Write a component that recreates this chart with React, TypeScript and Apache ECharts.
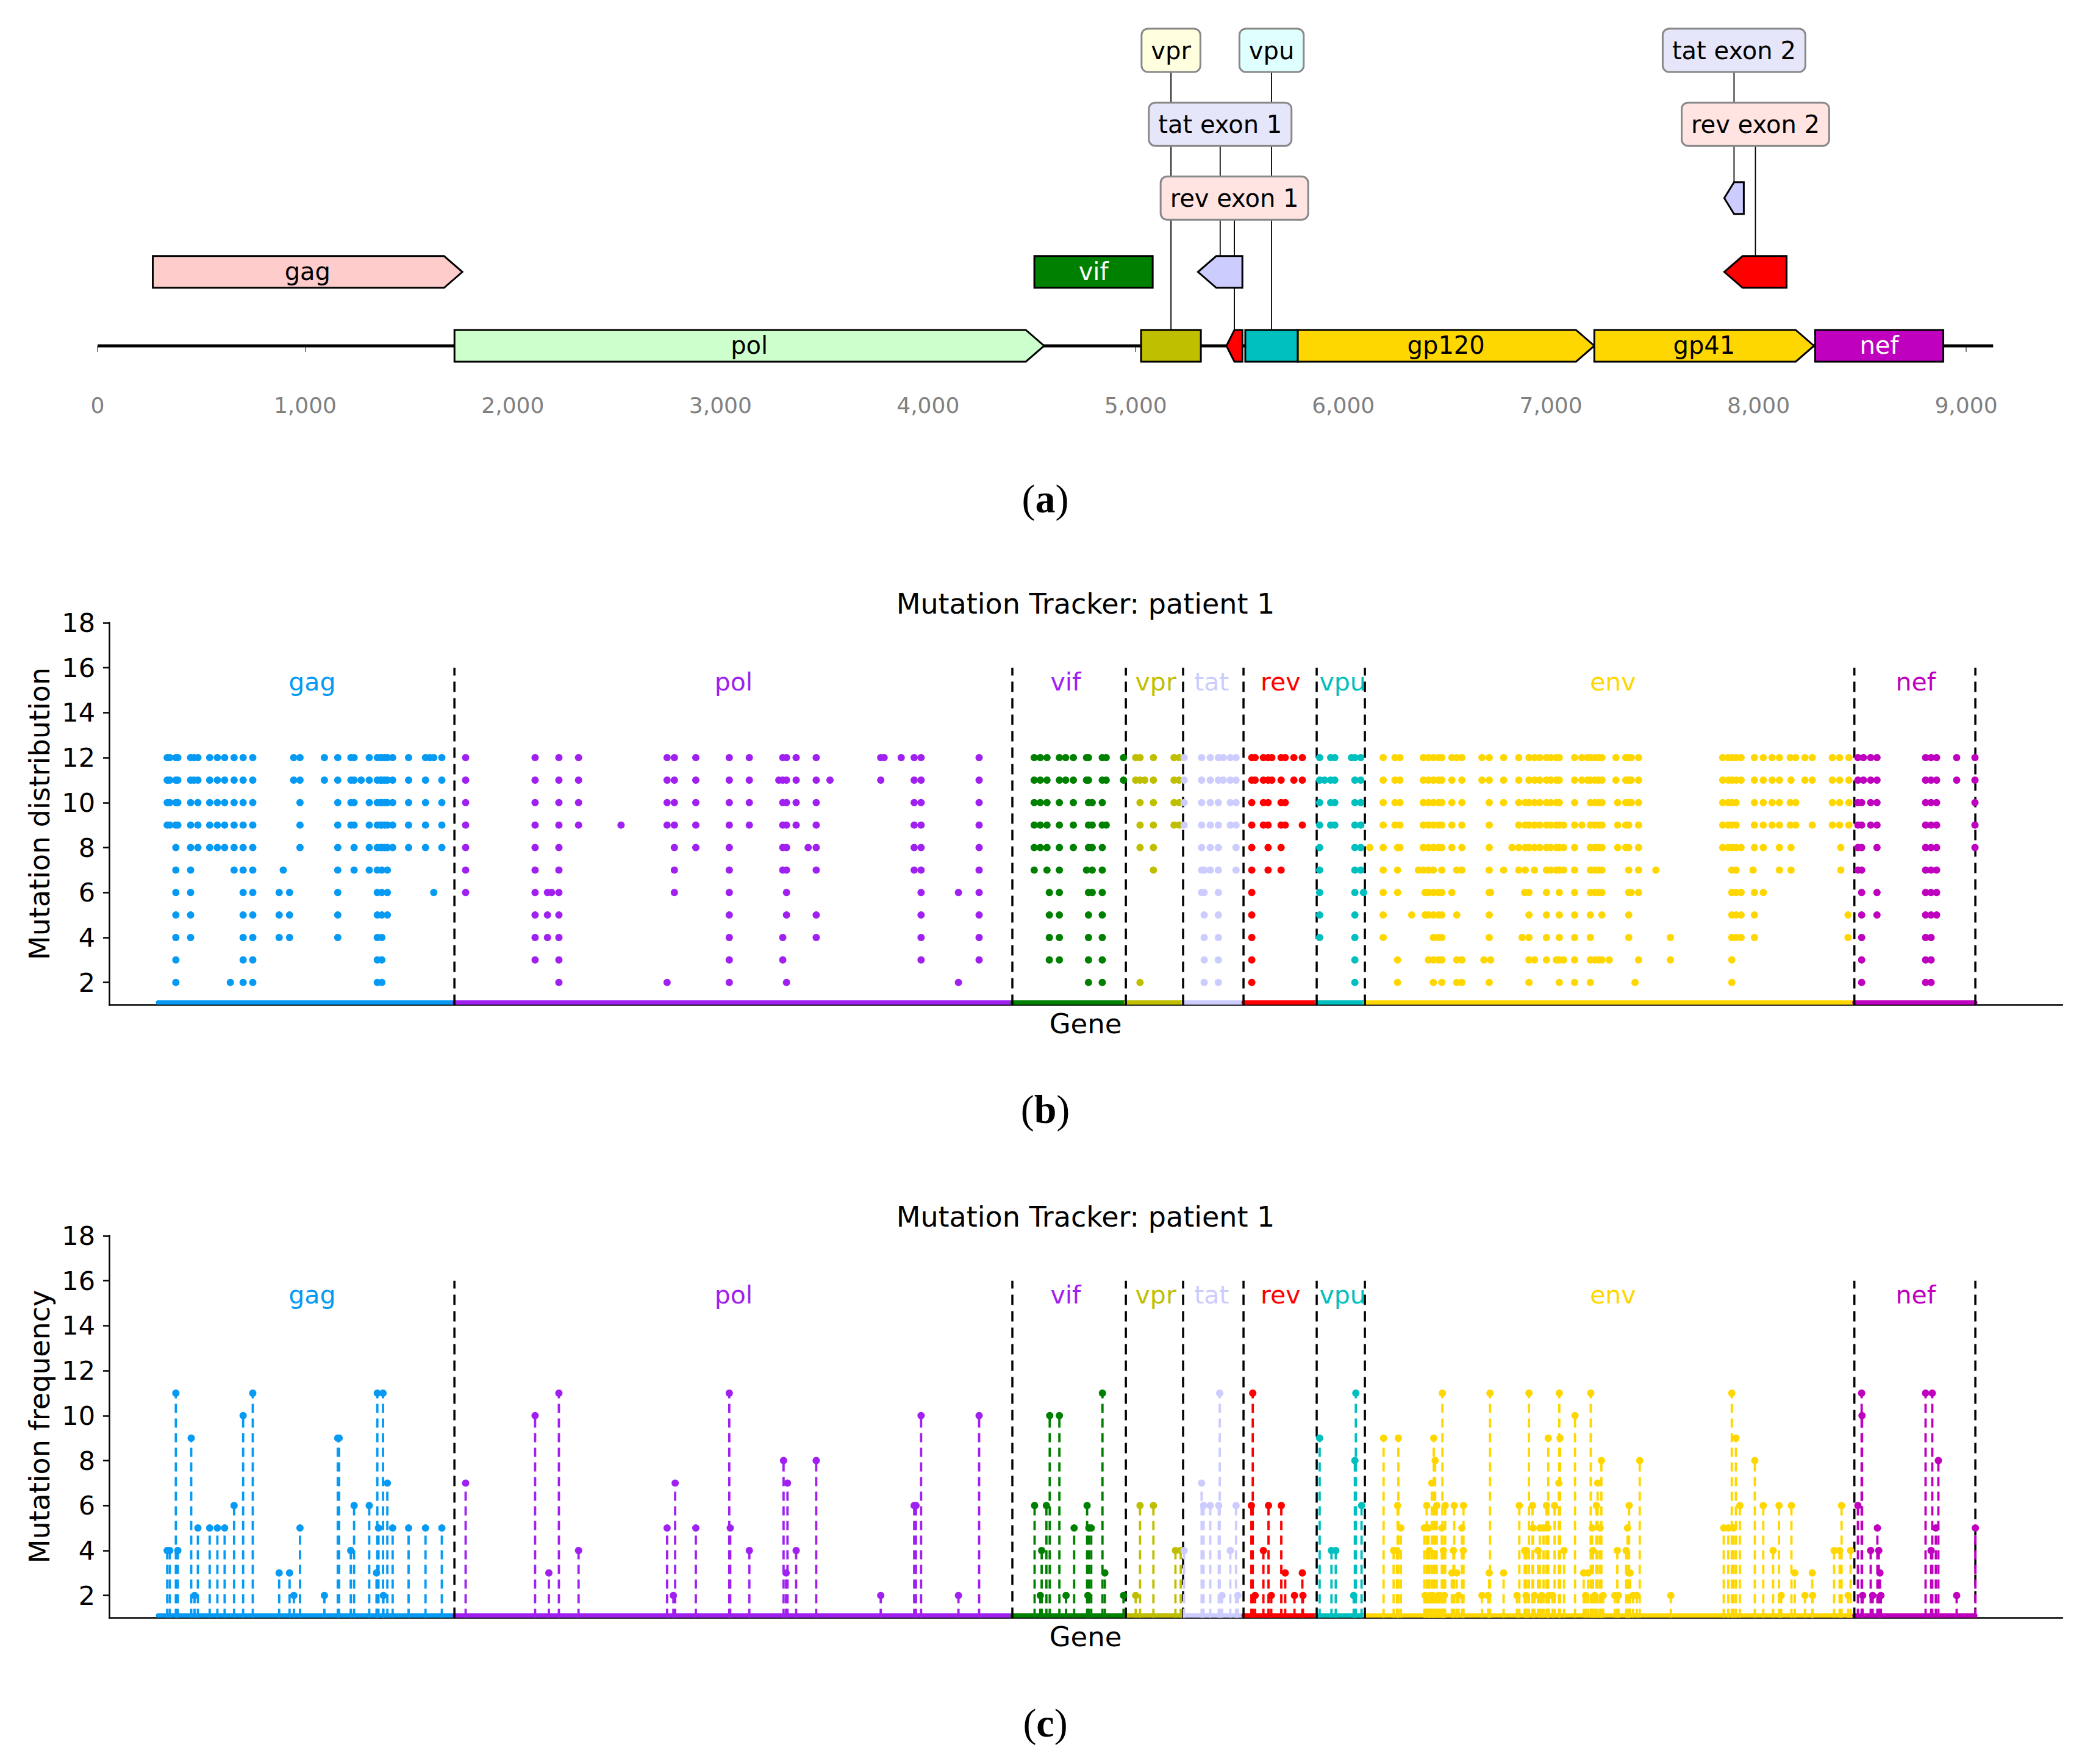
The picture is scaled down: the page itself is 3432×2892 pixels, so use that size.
import React, { useEffect, useRef } from "react";
import * as echarts from "echarts";

const FONT = "DejaVu Sans";

// ---------------- Panel (a): genome map ----------------
const genomeLength = 9130;
const featureNames = ["gag", "pol", "vif", "vpr", "rev exon 1", "tat exon 1", "vpu", "gp120", "gp41", "nef", "tat exon 2", "rev exon 2"];
const featureStart = [266, 1719, 4512, 5026, 5437, 5300, 5528, 5781, 7209, 8273, 7835, 7835];
const featureEnd = [1757, 4559, 5082, 5314, 5514, 5514, 5781, 7209, 8267, 8890, 7929, 8135];
const featureStrand = [1, 1, 0, 0, -1, -1, 0, 1, 1, 0, -1, -1];
const featureRow = [1, 0, 1, 0, 0, 1, 0, 0, 0, 0, 2, 1];
const featureLabelRow = [-1, -1, -1, 4, 2, 3, 4, -1, -1, -1, 4, 3]; // -1 = label inside box
const featureFill = ["#ffcccc", "#ccffcc", "#008000", "#bfbf00", "#ff0000", "#ccccff", "#00bfbf", "#ffd700", "#ffd700", "#bf00bf", "#ccccff", "#ff0000"];
const featureTextColor = ["#000", "#000", "#fff", "#000", "#000", "#000", "#000", "#000", "#000", "#fff", "#000", "#000"];
const labelBoxFill = ["", "", "", "#ffffe0", "#ffe4e1", "#e6e6fa", "#e0ffff", "", "", "", "#e6e6fa", "#ffe4e1"];

// ---------------- Panels (b) and (c) ----------------
const geneNames = ["gag", "pol", "vif", "vpr", "tat", "rev", "vpu", "env", "nef"];
const geneBounds = [0, 1507, 4343, 4920, 5211, 5518, 5890, 6135, 8623, 9238];
const geneLabelPos = [784, 2926, 4614, 5072, 5356, 5706, 6022, 7396, 8935];
const geneColors = ["#069af3", "#a020f0", "#008000", "#bfbf00", "#ccccff", "#ff0000", "#00bfbf", "#ffd700", "#bf00bf"];
const geneLabelColors = ["#069af3", "#a020f0", "#a020f0", "#bfbf00", "#ccccff", "#ff0000", "#00bfbf", "#ffd700", "#bf00bf"];
const yTicks = [2, 4, 6, 8, 10, 12, 14, 16, 18];

// distribution: [position, samples in which the mutation is seen]
const distGag: [number, number[]][] = [
  [47, [12, 11, 10, 9]], [60, [12, 11, 10, 9]], [91, [12, 11, 10, 9, 8, 7, 6, 5, 4, 3, 2]], [101, [12, 11, 10, 9]],
  [166, [12, 11, 10, 9, 8, 7, 6, 5, 4]], [183, [12, 11]], [203, [12, 11, 10, 9, 8]], [263, [12, 11, 10, 9, 8]],
  [302, [12, 11, 10, 9, 8]], [339, [12, 11, 10, 9, 8]], [368, [2]], [387, [12, 11, 10, 9, 8, 7]],
  [433, [12, 11, 10, 9, 8, 7, 6, 5, 4, 3, 2]], [482, [12, 11, 10, 9, 8, 7, 6, 5, 4, 3, 2]], [616, [6, 5, 4]], [637, [7]],
  [669, [6, 5, 4]], [690, [12, 11]], [722, [12, 11, 10, 9, 8]], [846, [12, 11]], [914, [12, 11, 10, 9, 8, 7, 6, 5, 4]],
  [981, [12, 11, 10, 9]], [997, [12, 11, 10, 9, 8, 7]], [1033, [11]], [1074, [12, 11, 10, 9, 8, 7]],
  [1115, [12, 11, 10, 9, 8, 7, 6, 5, 4, 3, 2]], [1132, [12, 11, 10, 9, 8]], [1138, [12, 11, 10, 9, 8, 7, 6, 5, 4, 3, 2]],
  [1152, [12, 11, 10, 9, 8]], [1166, [12, 11, 10, 9, 8, 7, 6, 5]], [1193, [12, 11, 10, 9, 8]], [1274, [12, 11, 10, 9, 8]],
  [1360, [12, 11, 10, 9, 8]], [1382, [12]], [1402, [12, 6]], [1443, [12, 11, 10, 9, 8]],
];
const distPol: [number, number[]][] = [
  [1564, [12, 11, 10, 9, 8, 7, 6]], [1917, [12, 11, 10, 9, 8, 7, 6, 5, 4, 3]], [1980, [6, 5, 4]], [2001, [6]],
  [2038, [12, 11, 10, 9, 8, 7, 6, 5, 4, 3, 2]], [2138, [12, 11, 10, 9]], [2354, [9]], [2588, [12, 11, 10, 9, 2]],
  [2625, [12, 11, 10, 9, 8, 7, 6]], [2734, [12, 11, 10, 9, 8]], [2904, [12, 11, 10, 9, 8, 7, 6, 5, 4, 3, 2]],
  [3006, [12, 11, 10, 9]], [3156, [11]], [3176, [12, 11, 10, 9, 8, 7, 4, 3]], [3195, [12, 11, 10, 9, 8, 7, 6, 5, 2]],
  [3244, [12, 11, 10, 9]], [3305, [8]], [3346, [12, 11, 10, 9, 8, 7, 5, 4]], [3416, [11]], [3674, [12, 11]],
  [3691, [12]], [3778, [12]], [3844, [12, 11, 10, 9, 8, 7]], [3879, [12, 11, 10, 9, 8, 7, 6, 5, 4, 3]],
  [4069, [6, 2]], [4174, [12, 11, 10, 9, 8, 7, 6, 5, 4, 3]],
];
const distVif: [number, number[]][] = [
  [4454, [12, 11, 10, 9, 8, 7]], [4485, [12, 11, 10, 9, 8]], [4519, [12, 11, 10, 9, 8, 7]], [4531, [6, 5, 4, 3]],
  [4582, [12, 11, 10, 9, 8, 7, 6, 5, 4, 3]], [4614, [12, 11]], [4653, [12, 11, 10, 9, 8]], [4720, [12, 11, 7]],
  [4730, [12, 11, 10, 9, 8, 6, 5, 4, 3, 2]], [4749, [10, 9, 8, 7, 6]], [4800, [12, 11, 10, 9, 8, 7, 6, 5, 4, 3, 2]],
  [4820, [12, 11, 9]], [4908, [12, 11]],
];
const distVpr: [number, number[]][] = [
  [4970, [12, 11]], [4992, [12, 11, 10, 9, 8, 2]], [5016, [11]], [5060, [12, 11, 10, 9, 8, 7]],
  [5165, [12, 11, 10, 9]], [5191, [12, 11, 10, 9]],
];
const distTat: [number, number[]][] = [
  [5216, [12, 11, 10, 9]], [5305, [12, 11, 10, 9, 8, 7, 6]], [5318, [7, 6, 5, 4, 3, 2]], [5349, [12, 11, 10, 9, 8, 7]],
  [5390, [12, 11, 10, 9, 8, 7, 6, 5, 4, 3, 2]], [5415, [12, 11]], [5451, [12, 11, 10, 9]], [5480, [12, 11, 10, 9, 8, 7]],
];
const distRev: [number, number[]][] = [
  [5560, [12, 11, 10, 9, 8, 7, 6, 5, 4, 3, 2]], [5577, [12, 11]], [5619, [12, 11, 10, 9]], [5643, [12, 11, 10, 9, 8, 7]],
  [5662, [12, 11]], [5709, [12, 11, 10, 9, 8, 7]], [5730, [12, 10, 9]], [5774, [12, 11]], [5817, [12, 11, 9]],
];
const distVpu: [number, number[]][] = [
  [5905, [12, 11, 10, 9, 8, 7, 6, 5, 4]], [5930, [11]], [5961, [12, 11, 10, 9]], [5982, [12, 11, 10, 9]], [6067, [12]],
  [6084, [12, 11, 10, 9, 8, 7, 6, 5, 4, 3, 2]], [6114, [12, 11, 10, 9, 8, 7]], [6128, [6]],
];
const distEnv: [number, number[]][] = [
  [6160, [8]], [6228, [12, 11, 10, 9, 8, 7, 6, 5, 4]], [6288, [12, 11, 10, 9]], [6301, [8, 7, 6, 3, 2]],
  [6313, [12, 11, 10, 9, 8]], [6373, [5]], [6407, [7]], [6432, [12, 11, 10, 9, 8, 7]], [6441, [6, 5]],
  [6458, [12, 11, 10, 9, 8, 7, 6, 5, 3]], [6483, [12, 11, 10, 9, 8, 7, 6, 5, 4, 3, 2]], [6509, [12, 11, 10, 9, 8, 6, 5, 4, 3]],
  [6526, [12, 11, 10, 9, 8, 7, 6, 5, 4, 3, 2]], [6577, [12, 11, 10, 9, 8, 6]], [6602, [12, 7, 5, 3, 2]],
  [6628, [12, 11, 10, 9, 8, 7, 3, 2]], [6730, [12, 11]], [6740, [3]], [6767, [12, 11, 10, 9, 8, 7, 6, 5, 4, 2]],
  [6774, [6, 3]], [6840, [12, 11, 10, 7]], [6883, [8]], [6917, [12, 11, 10, 9, 8, 7]], [6934, [4]], [6947, [6]],
  [6950, [10, 9, 8, 7]], [6969, [12, 11, 10, 9, 8, 6, 5, 4, 3, 2]], [6997, [12, 11, 10, 9, 8, 7, 3]],
  [7024, [12, 11, 10, 9, 8]], [7058, [12, 11, 10, 9, 8, 7, 6, 5, 4, 3]], [7080, [12, 11, 10, 9, 8, 7]],
  [7108, [12, 11, 10, 9, 8, 7, 3]], [7123, [12, 11, 10, 9, 8, 7, 6, 5, 4, 3, 2]], [7145, [9, 8, 7, 3]],
  [7201, [12, 11, 10, 9, 8, 7, 6, 5, 4, 3, 2]], [7238, [12, 11, 9]], [7266, [12, 11]],
  [7281, [12, 11, 10, 9, 8, 7, 6, 5, 4, 3, 2]], [7303, [12, 11, 10, 9, 8, 7, 6, 3]], [7322, [12, 11, 10, 9, 8, 7, 6, 3]],
  [7340, [12, 11, 10, 9, 8, 7, 6, 5, 3]], [7377, [3]], [7411, [12, 11]], [7420, [10, 9, 8]], [7461, [12, 11, 10, 9, 8]],
  [7476, [12, 11, 10, 9, 8, 7, 6, 5, 4]], [7489, [12, 11, 10, 6]], [7508, [2]], [7526, [12, 11, 10, 9, 8, 7, 6, 3]],
  [7614, [7]], [7688, [4, 3]], [7954, [12, 11, 10, 9, 8]], [7982, [12, 11, 10, 9, 8]],
  [8000, [12, 11, 10, 9, 8, 7, 6, 5, 4, 3, 2]], [8022, [12, 11, 10, 9, 8, 7, 6, 5, 4]], [8047, [12, 11, 8, 6, 5, 4]],
  [8108, [7]], [8115, [12, 11, 10, 9, 8, 6, 5, 4]], [8160, [12, 11, 10, 9, 8, 6]], [8205, [12, 11, 10, 9]],
  [8242, [12, 11, 10, 9, 8, 7]], [8297, [12, 10, 9]], [8301, [11, 8, 7]], [8325, [12, 10, 9]], [8372, [12, 11]],
  [8409, [12, 11, 9]], [8511, [12, 11, 10, 9]], [8548, [12, 11, 10, 9]], [8554, [8, 7]], [8591, [5, 4]],
  [8595, [12, 11, 10, 9]],
];
const distNef: [number, number[]][] = [
  [8641, [12, 11, 10, 9, 8, 7]], [8660, [10, 9, 8, 7, 6, 5, 4, 3, 2]], [8669, [12, 11]], [8706, [12, 11, 10, 9]],
  [8738, [12, 11, 10, 9, 8, 6, 5]], [8985, [12, 11, 10, 9, 8, 7, 6, 5, 4, 3, 2]], [9013, [12, 11, 10, 9, 8, 7, 6, 5, 4, 3, 2]],
  [9041, [12, 11, 10, 9, 8, 7, 6, 5]], [9143, [12, 11]], [9236, [12, 11, 10, 9, 8]],
];

// frequency: [position, number of samples]
const freqGag: [number, number][] = [
  [47, 4], [60, 4], [91, 11], [101, 4], [169, 9], [186, 2], [203, 5], [263, 5], [302, 5], [339, 5], [387, 6], [433, 10],
  [482, 11], [616, 3], [669, 3], [691, 2], [722, 5], [846, 2], [914, 9], [921, 9], [980, 4], [997, 6], [1074, 6],
  [1111, 3], [1115, 11], [1121, 5], [1144, 11], [1146, 2], [1166, 7], [1193, 5], [1274, 5], [1360, 5], [1443, 5],
];
const freqPol: [number, number][] = [
  [1564, 7], [1917, 10], [1987, 3], [2038, 11], [2138, 4], [2588, 5], [2620, 2], [2629, 7], [2734, 5], [2904, 11],
  [2909, 5], [3006, 4], [3180, 8], [3193, 3], [3200, 7], [3244, 4], [3346, 8], [3674, 2], [3844, 6], [3853, 6],
  [3879, 10], [4069, 2], [4174, 10],
];
const freqVif: [number, number][] = [
  [4456, 6], [4485, 2], [4492, 4], [4516, 6], [4533, 10], [4582, 10], [4616, 2], [4657, 5], [4723, 6], [4727, 2],
  [4732, 5], [4744, 5], [4801, 11], [4813, 3], [4908, 2],
];
const freqVpr: [number, number][] = [[4970, 2], [4992, 6], [5060, 6], [5172, 4], [5199, 4]];
const freqTat: [number, number][] = [
  [5216, 4], [5305, 7], [5315, 6], [5349, 6], [5392, 6], [5397, 11], [5409, 2], [5451, 4], [5480, 6], [5489, 2],
];
const freqRev: [number, number][] = [
  [5558, 6], [5565, 11], [5577, 2], [5619, 4], [5645, 6], [5659, 2], [5710, 6], [5730, 3], [5777, 2], [5817, 3], [5820, 2],
];
const freqVpu: [number, number][] = [[5905, 9], [5965, 4], [5987, 4], [6078, 2], [6084, 8], [6089, 11], [6118, 6]];
const freqEnv: [number, number][] = [
  [6230, 9], [6281, 4], [6298, 4], [6301, 6], [6305, 9], [6318, 5], [6437, 5], [6441, 2], [6449, 6], [6458, 5],
  [6463, 4], [6466, 2], [6475, 7], [6480, 2], [6485, 9], [6492, 8], [6500, 6], [6509, 2], [6517, 2], [6526, 5],
  [6529, 11], [6534, 4], [6539, 2], [6543, 6], [6577, 3], [6585, 4], [6589, 6], [6602, 3], [6611, 2], [6628, 5],
  [6635, 4], [6636, 6], [6730, 2], [6761, 2], [6767, 3], [6771, 11], [6840, 3], [6908, 2], [6920, 6], [6947, 4],
  [6954, 2], [6956, 4], [6969, 11], [6987, 6], [6990, 5], [6997, 2], [7015, 4], [7024, 5], [7034, 2], [7043, 5],
  [7058, 6], [7065, 5], [7067, 9], [7071, 2], [7089, 2], [7099, 6], [7121, 7], [7123, 11], [7127, 9], [7147, 4],
  [7203, 10], [7247, 3], [7257, 2], [7270, 3], [7283, 11], [7290, 5], [7294, 4], [7303, 2], [7312, 6], [7318, 7],
  [7331, 5], [7337, 8], [7346, 2], [7405, 2], [7418, 4], [7424, 2], [7463, 4], [7470, 5], [7476, 3], [7478, 6],
  [7483, 3], [7498, 2], [7517, 2], [7532, 8], [7690, 2], [7959, 5], [7982, 5], [8000, 11], [8009, 5], [8021, 9],
  [8041, 6], [8117, 8], [8160, 6], [8210, 4], [8240, 6], [8251, 2], [8303, 6], [8320, 3], [8372, 2], [8409, 3],
  [8411, 2], [8520, 4], [8548, 4], [8558, 6], [8591, 2], [8604, 4],
];
const freqNef: [number, number][] = [
  [8641, 6], [8660, 11], [8662, 10], [8665, 2], [8706, 4], [8716, 2], [8740, 5], [8747, 4], [8753, 3], [8758, 2],
  [8985, 11], [9013, 4], [9019, 11], [9037, 5], [9050, 8], [9143, 2], [9238, 5],
];

const distByGene = [distGag, distPol, distVif, distVpr, distTat, distRev, distVpu, distEnv, distNef];
const freqByGene = [freqGag, freqPol, freqVif, freqVpr, freqTat, freqRev, freqVpu, freqEnv, freqNef];

function textStyle(text: string, size: number, fill: string, extra: any = {}) {
  return { text, fontSize: size, fontFamily: FONT, fill, align: "center", verticalAlign: "middle", ...extra };
}

function trackerSeries(gridIdx: number, kind: "dist" | "freq"): any[] {
  const out: any[] = [];
  // bottom coloured bands
  out.push({
    type: "custom", xAxisIndex: gridIdx, yAxisIndex: gridIdx, clip: false, silent: true, z: 1,
    data: geneNames.map((_, i) => [geneBounds[i], geneBounds[i + 1]]),
    renderItem: (params: any, api: any) => {
      const i = params.dataIndex;
      const a = api.coord([geneBounds[i], 1]);
      const b = api.coord([geneBounds[i + 1], 1]);
      return {
        type: "line",
        shape: { x1: a[0], y1: a[1] - 4, x2: b[0], y2: b[1] - 4 },
        style: { stroke: geneColors[i], lineWidth: 7, lineCap: "round" },
      };
    },
  });
  // dashed gene boundaries
  out.push({
    type: "custom", xAxisIndex: gridIdx, yAxisIndex: gridIdx, clip: false, silent: true, z: 2,
    data: geneBounds.slice(1).map((b) => [b, 16]),
    renderItem: (params: any, api: any) => {
      const v = geneBounds[params.dataIndex + 1];
      const a = api.coord([v, 1]);
      const b = api.coord([v, 16]);
      return {
        type: "line",
        shape: { x1: a[0], y1: a[1], x2: b[0], y2: b[1] },
        style: { stroke: "#000", lineWidth: 3.5, lineDash: [17, 10] },
      };
    },
  });
  // gene name labels
  out.push({
    type: "custom", xAxisIndex: gridIdx, yAxisIndex: gridIdx, clip: false, silent: true, z: 3,
    data: geneNames.map((_, i) => [geneLabelPos[i], 15.37]),
    renderItem: (params: any, api: any) => {
      const i = params.dataIndex;
      const p = api.coord([geneLabelPos[i], 15.37]);
      return { type: "text", x: p[0], y: p[1], style: textStyle(geneNames[i], 41, geneLabelColors[i]) };
    },
  });
  geneNames.forEach((g, gi) => {
    if (kind === "dist") {
      const data: number[][] = [];
      distByGene[gi].forEach(([pos, samples]) => samples.forEach((s) => data.push([pos, s])));
      out.push({
        type: "scatter", name: g, xAxisIndex: gridIdx, yAxisIndex: gridIdx, silent: true, z: 4,
        symbol: "circle", symbolSize: 12, itemStyle: { color: geneColors[gi], opacity: 1 }, data,
      });
    } else {
      const freq = freqByGene[gi];
      out.push({
        type: "custom", name: g + " stems", xAxisIndex: gridIdx, yAxisIndex: gridIdx, clip: false, silent: true, z: 4,
        data: freq.map((d) => [d[0], d[1]]),
        renderItem: (params: any, api: any) => {
          const d = freq[params.dataIndex];
          const a = api.coord([d[0], 1]);
          const b = api.coord([d[0], d[1]]);
          return {
            type: "line",
            shape: { x1: a[0], y1: a[1], x2: b[0], y2: b[1] },
            style: { stroke: geneColors[gi], lineWidth: 3.8, lineDash: [15, 9] },
          };
        },
      });
      out.push({
        type: "scatter", name: g, xAxisIndex: gridIdx, yAxisIndex: gridIdx, silent: true, z: 5,
        symbol: "circle", symbolSize: 12, itemStyle: { color: geneColors[gi], opacity: 1 },
        data: freq.map((d) => [d[0], d[1]]),
      });
    }
  });
  return out;
}

function buildOption(): any {
  const series: any[] = [];

  // backbone line
  series.push({
    type: "custom", xAxisIndex: 0, yAxisIndex: 0, clip: false, silent: true, z: 1,
    data: [[0, 0]],
    renderItem: (_p: any, api: any) => {
      const a = api.coord([0, 0]);
      const b = api.coord([genomeLength, 0]);
      return { type: "line", shape: { x1: a[0], y1: a[1], x2: b[0], y2: b[1] }, style: { stroke: "#000", lineWidth: 5 } };
    },
  });

  const labelled = featureNames.map((_, i) => i).filter((i) => featureLabelRow[i] >= 0);
  // leader lines
  series.push({
    type: "custom", xAxisIndex: 0, yAxisIndex: 0, clip: false, silent: true, z: 2,
    data: labelled.map((i) => [(featureStart[i] + featureEnd[i]) / 2, featureLabelRow[i]]),
    renderItem: (params: any, api: any) => {
      const i = labelled[params.dataIndex];
      const cx = (featureStart[i] + featureEnd[i]) / 2;
      const a = api.coord([cx, featureLabelRow[i]]);
      const b = api.coord([cx, featureRow[i]]);
      return { type: "line", shape: { x1: a[0], y1: a[1], x2: b[0], y2: b[1] - 26 }, style: { stroke: "#000", lineWidth: 1.8 } };
    },
  });

  // features
  series.push({
    type: "custom", xAxisIndex: 0, yAxisIndex: 0, clip: false, silent: true, z: 3,
    data: featureNames.map((_, i) => [featureStart[i], featureRow[i]]),
    renderItem: (params: any, api: any) => {
      const i = params.dataIndex;
      const a = api.coord([featureStart[i], featureRow[i]]);
      const b = api.coord([featureEnd[i], featureRow[i]]);
      const h = 52;
      const x1 = a[0], x2 = b[0], yc = a[1];
      const top = yc - h / 2, bot = yc + h / 2;
      const tip = Math.min(30, (x2 - x1) / 2);
      let pts: number[][];
      if (featureStrand[i] > 0) pts = [[x1, top], [x2 - tip, top], [x2, yc], [x2 - tip, bot], [x1, bot]];
      else if (featureStrand[i] < 0) pts = [[x1 + tip, top], [x2, top], [x2, bot], [x1 + tip, bot], [x1, yc]];
      else pts = [[x1, top], [x2, top], [x2, bot], [x1, bot]];
      const children: any[] = [
        { type: "polygon", shape: { points: pts }, style: { fill: featureFill[i], stroke: "#000", lineWidth: 3, lineJoin: "miter" } },
      ];
      if (featureLabelRow[i] < 0) {
        children.push({ type: "text", x: (x1 + x2) / 2, y: yc - 1, style: textStyle(featureNames[i], 40, featureTextColor[i]) });
      }
      return { type: "group", children };
    },
  });

  // outside labels
  series.push({
    type: "custom", xAxisIndex: 0, yAxisIndex: 0, clip: false, silent: true, z: 4,
    data: labelled.map((i) => [(featureStart[i] + featureEnd[i]) / 2, featureLabelRow[i]]),
    renderItem: (params: any, api: any) => {
      const i = labelled[params.dataIndex];
      const p = api.coord([(featureStart[i] + featureEnd[i]) / 2, featureLabelRow[i]]);
      return {
        type: "text", x: p[0], y: p[1],
        style: textStyle(featureNames[i], 40, "#000", {
          backgroundColor: labelBoxFill[i], borderColor: "#888888", borderWidth: 3, borderRadius: 9,
          padding: [12, 14], lineHeight: 44,
        }),
      };
    },
  });

  series.push(...trackerSeries(1, "dist"));
  series.push(...trackerSeries(2, "freq"));

  const trackerX = (gi: number) => ({
    gridIndex: gi, type: "value", min: -248, max: 9681,
    axisLine: { show: true, onZero: false, lineStyle: { color: "#000", width: 2.5 } },
    axisTick: { show: false }, axisLabel: { show: false }, splitLine: { show: false },
  });
  const trackerY = (gi: number) => ({
    gridIndex: gi, type: "value", min: 1, max: 18,
    axisLine: { show: true, onZero: false, lineStyle: { color: "#000", width: 2.5 } },
    axisTick: { show: true, length: 10, lineStyle: { color: "#000", width: 2.5 }, customValues: yTicks },
    axisLabel: { show: true, margin: 23, fontSize: 43, fontFamily: FONT, color: "#000", customValues: yTicks },
    splitLine: { show: false },
  });

  const txt = (text: string, x: number, y: number, size: number, extra: any = {}, rotation = 0) => ({
    type: "text", x, y, rotation, silent: true,
    style: { text, fontSize: size, fontFamily: FONT, fill: "#000", align: "center", verticalAlign: "middle", ...extra },
  });
  const letter = (ch: string, y: number) => ({
    type: "text", x: 1714, y, silent: true,
    style: {
      text: "{p|(}{b|" + ch + "}{p|)}",
      align: "center", verticalAlign: "middle",
      rich: {
        p: { fontSize: 66, fontFamily: "Liberation Serif", fontWeight: "normal", fill: "#000" },
        b: { fontSize: 66, fontFamily: "Liberation Serif", fontWeight: "bold", fill: "#000" },
      },
    },
  });

  return {
    animation: false,
    backgroundColor: "#ffffff",
    grid: [
      { left: 160, top: 22, width: 3064, height: 605.5 },
      { left: 179, top: 1021, width: 3203, height: 626.5 },
      { left: 179, top: 2026, width: 3203, height: 626.5 },
    ],
    xAxis: [
      {
        gridIndex: 0, type: "value", min: 0, max: 9000, interval: 1000,
        axisLine: { show: false },
        axisTick: { show: true, length: 10, lineStyle: { color: "#808080", width: 2 } },
        axisLabel: {
          show: true, margin: 19, fontSize: 36, fontFamily: FONT, color: "#808080",
          formatter: (v: number) => v.toLocaleString("en-US"),
        },
        splitLine: { show: false },
      },
      trackerX(1),
      trackerX(2),
    ],
    yAxis: [
      { gridIndex: 0, type: "value", min: -0.5, max: 4.5, show: false, splitLine: { show: false } },
      trackerY(1),
      trackerY(2),
    ],
    graphic: {
      elements: [
        letter("a", 817),
        txt("Mutation Tracker: patient 1", 1780, 990, 46),
        txt("Gene", 1780, 1678, 45),
        txt("Mutation distribution", 65, 1334, 46, {}, Math.PI / 2),
        letter("b", 1818),
        txt("Mutation Tracker: patient 1", 1780, 1995, 46),
        txt("Gene", 1780, 2683, 45),
        txt("Mutation frequency", 65, 2339, 46, {}, Math.PI / 2),
        letter("c", 2824),
      ],
    },
    series,
  };
}

export default function App() {
  const ref = useRef<HTMLDivElement>(null);
  useEffect(() => {
    document.body.style.margin = "0";
    const chart = echarts.init(ref.current!, null, { renderer: "svg" });
    chart.setOption(buildOption());
    return () => chart.dispose();
  }, []);
  return <div ref={ref} style={{ width: 3432, height: 2892, background: "#ffffff" }} />;
}
